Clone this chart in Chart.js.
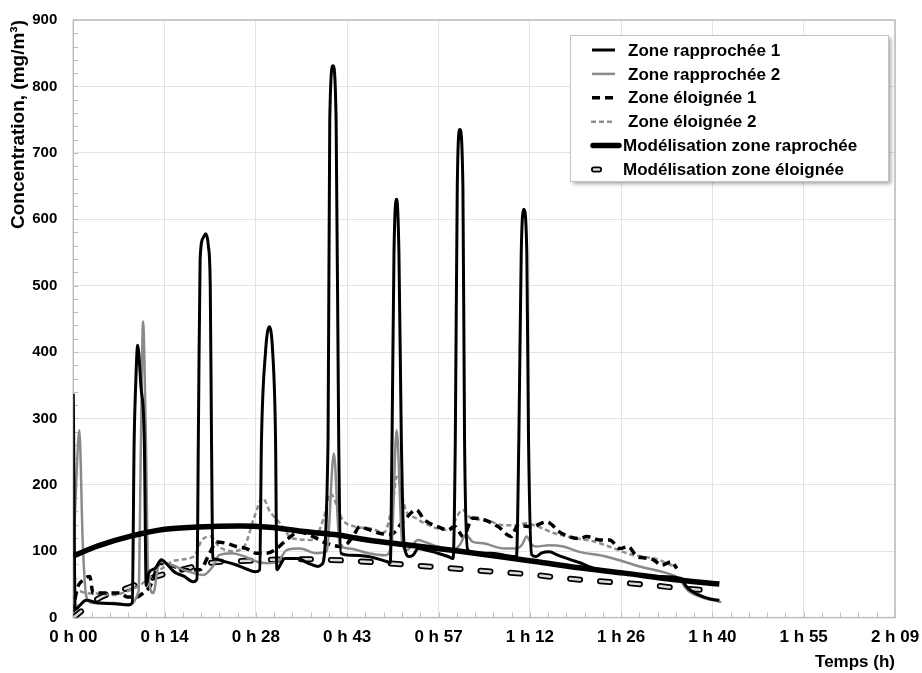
<!DOCTYPE html>
<html><head><meta charset="utf-8">
<script src="https://cdn.jsdelivr.net/npm/chart.js@4.4.1/dist/chart.umd.min.js"></script>
<style>html,body{margin:0;padding:0;background:#fff;}</style>
</head><body>
<canvas id="c" width="922" height="673"></canvas>
<script>
// ---- data (time in minutes, concentration in mg/m3) ----
const seriesLabels = ['Zone rapprochée 1','Zone rapprochée 2','Zone éloignée 1','Zone éloignée 2','Modélisation zone raprochée','Modélisation zone éloignée'];

const r1Time = [0,0.3,1.0,2.0,4.0,6.5,8.7,9.3, 9.6,9.83,10.15,10.67,11.2,11.5, 11.9,12.9,13.9,14.4,15.9,17.5,18.9, 19.5,19.75,20.0,20.5,20.9,21.3,21.6,21.8,22.0, 22.5,24.0,25.5,27.1,28.7, 29.4,29.68,30.3,30.9,31.46,31.9,32.1, 32.8,33.3,35.4,37.0,38.6, 39.2,40.18,40.45,40.96,41.45,41.86,42.2, 43.8,46.5,48.6, 50.0,50.27,50.58,51.0,51.36,51.74,52.2, 53.05,53.6,54.4,55.4,57.5,59.1, 59.9,60.25,60.56,60.97,61.45,61.71,62.2, 63.3,65.9,68.0, 69.9,70.27,70.65,71.06,71.53,71.8,72.3, 73.0,73.8,75.1,76.4,78.5,79.8,82.2,86.9,92.2,95.9,96.6,97.5,99.2,100.5,101.9];
const r1Conc = [337,12,18,26,22,21,19,22, 267,348,410,348,267,48, 67,74,87,84,69,62,54, 58,300,539,572,578,560,500,267,90, 88,84,80,74,69, 72,267,398,438,398,267,72, 82,89,89,82,77, 80,267,750,831,750,267,97, 94,92,87, 83,267,549,630,549,267,107, 92,94,104,102,97,92, 89,267,649,735,649,267,102, 97,97,94, 92,267,549,615,549,267,95, 92,97,99,94,87,83,74,67,62,59,48,40,32,28,26];

const r2Time = [0,0.45,0.95,1.5,2.1,3.0,4.5,6.5,8.5,10.3,10.67,11.0,11.45,11.8,12.6,13.6,15.5,18.3,20.5,22.0,23.0,25.0,27.0,29.0,30.6,32.2,33.7,35.7,38.3,40.0,41.1,42.0,43.5,46.5,49.2,50.2,51.0,51.9,52.6,54.4,55.4,57.5,59.9,61.0,61.9,63.0,64.6,68.0,69.9,70.8,71.5,72.3,73.0,75.1,77.3,79.8,84.0,89.3,94.5,95.6,96.4,97.2,99.0,100.0,101.5,102.2];
const r2Conc = [90,200,282,110,30,22,22,22,20,40,267,446,267,70,37,84,79,69,64,77,94,97,92,84,82,84,102,104,97,100,247,110,104,97,94,110,282,110,102,117,114,107,102,110,125,114,112,104,104,110,122,110,107,109,107,99,92,77,64,58,47,39,31,28,25,23];

const e1Time = [0,0.5,1.6,2.6,3.1,4.7,7.4,8.5,10.0,11.0,12.1,13.7,15.2,17.8,19.96,21.5,22.6,24.1,25.7,27.3,28.9,30.5,32.1,33.6,35.7,37.8,39.9,42.5,44.1,45.2,46.2,48.3,50.0,52.2,54.1,55.4,57.5,59.1,60.2,61.5,63.0,64.9,67.0,69.1,70.1,72.2,74.6,77.0,79.8,81.0,83.0,84.6,86.2,87.5,88.9,89.9,91.5,92.8,94.3,95.2];
const e1Conc = [8,40,57,62,37,37,37,31,31,37,47,82,79,72,72,97,114,112,107,104,97,97,104,117,129,122,112,107,122,137,134,127,125,147,162,147,137,132,137,122,150,147,137,122,139,137,144,127,119,122,117,117,104,107,92,90,87,79,84,74];

const e2Time = [0,0.8,2.0,4.0,6.5,8.0,10.2,12.3,14.0,16.0,19.0,20.3,21.7,23.0,25.0,27.0,28.5,29.9,31.0,32.6,34.6,37.8,39.5,40.5,42.5,44.5,47.0,49.0,50.5,51.0,52.5,54.0,55.0,57.5,59.1,61.4,62.7,65.0,68.0,69.8,71.4,73.3,75.9,79.5,82.0,84.5,88.0,92.4,94.0,95.2];
const e2Conc = [20,40,37,36,34,38,47,62,74,86,92,117,122,107,100,108,150,180,160,142,119,117,150,187,147,137,134,128,180,212,160,150,144,134,132,162,150,147,139,139,142,137,127,119,115,107,95,87,80,77];

const modRTime = [0,3.9,9.2,14.45,19.7,26.3,30.9,36.0,41.2,46.4,52.2,60.1,68.0,73.2,79.8,86.9,94.0,101.9];
const modRConc = [93,108,123,133,136.5,138,136,130,125,117,110,101,91,84,75,67,58,50.5];

const modETime = [0,4.0,8.4,13.1,17.9,22.0,26.3,30.9,35.7,40.4,44.6,49.3,54.6,58.8,63.6,68.3,73.0,77.7,82.5,87.2,91.9,96.1,101.9];
const modEConc = [0,29,44,62,74,83,85,87,88,87,85,82,78,75,71,68,64,59,55,52,48,44,40];

const xMaxMinutes = 129.6;   // 0.09 day
const xStepMinutes = 14.4;   // 0.01 day
const yMax = 900, yStep = 100;

function pts(ts, vs){ return ts.map((t,i)=>({x:t, y:vs[i]})); }
function fmtTime(v){
  const h = Math.floor(v/60 + 1e-9);
  const m = Math.floor(v - h*60 + 1e-6);
  return h + ' h ' + String(m).padStart(2,'0');
}

const FONT = "'Liberation Sans', Arial, sans-serif";
Chart.defaults.font.family = FONT;
Chart.defaults.color = '#000';

const common = {pointRadius:0, pointHoverRadius:0, fill:false, cubicInterpolationMode:'monotone'};

const datasets = [
  {...common, label:seriesLabels[0], data:pts(r1Time,r1Conc), borderColor:'#000', borderWidth:3, order:0},
  {...common, label:seriesLabels[1], data:pts(r2Time,r2Conc), borderColor:'#8a8a8a', borderWidth:2.5, order:2},
  {...common, label:seriesLabels[2], data:pts(e1Time,e1Conc), borderColor:'#000', borderWidth:3.5, borderDash:[8,5], order:3},
  {...common, label:seriesLabels[3], data:pts(e2Time,e2Conc), borderColor:'#8f8f8f', borderWidth:2.5, borderDash:[5,3], order:4},
  {...common, label:seriesLabels[4], data:pts(modRTime,modRConc), borderColor:'#000', borderWidth:5.5, order:1},
  {...common, label:seriesLabels[5], data:pts(modETime,modEConc), borderColor:'#000', borderWidth:6, borderDash:[10,20], borderCapStyle:'round', order:6},
  {...common, label:'_inner', data:pts(modETime,modEConc), borderColor:'#dcdcdc', borderWidth:2.5, borderDash:[10,20], borderCapStyle:'round', order:5}
];

const frameMinor = {
  id:'frameMinor',
  beforeDatasetsDraw(chart){
    const {ctx, chartArea:a, scales:{x,y}} = chart;
    ctx.save();
    ctx.strokeStyle = '#bdbdbd'; ctx.lineWidth = 1;
    ctx.beginPath();
    for (let v=0; v<=xMaxMinutes+1e-6; v+=xStepMinutes/5){
      const px = Math.round(x.getPixelForValue(v))+0.5;
      ctx.moveTo(px, a.bottom); ctx.lineTo(px, a.bottom-5);
    }
    for (let v=0; v<=yMax+1e-6; v+=yStep/5){
      const py = Math.round(y.getPixelForValue(v))+0.5;
      ctx.moveTo(a.left, py); ctx.lineTo(a.left+5, py);
    }
    ctx.stroke();
    ctx.lineWidth = 1.5;
    ctx.strokeRect(a.left, a.top, a.right-a.left, a.bottom-a.top);
    ctx.restore();
  }
};

const boxLegend = {
  id:'boxLegend',
  afterDraw(chart){
    const {ctx, chartArea:a} = chart;
    const L = a.right - 325, T = a.top + 15, W = 318, H = 146;
    ctx.save();
    ctx.shadowColor = 'rgba(0,0,0,0.35)'; ctx.shadowOffsetX = 3; ctx.shadowOffsetY = 3; ctx.shadowBlur = 4;
    ctx.fillStyle = '#fff'; ctx.fillRect(L, T, W, H);
    ctx.shadowColor = 'transparent';
    ctx.strokeStyle = '#c4c4c4'; ctx.lineWidth = 1; ctx.strokeRect(L+0.5, T+0.5, W, H);
    const sym = [[22,45,58],[22,45,58],[22,44,58],[21,45,58],[23,49,53],[24,29,53]];
    const ds = chart.data.datasets;
    for (let i=0;i<6;i++){
      const cy = T + 15 + i*23.9;
      const d = ds[i];
      const draw = (dd)=>{
        ctx.beginPath();
        ctx.strokeStyle = dd.borderColor; ctx.lineWidth = dd.borderWidth;
        ctx.setLineDash(i<4 ? (dd.borderDash||[]) : []);
        ctx.lineCap = (i>=4) ? 'round' : 'butt';
        ctx.moveTo(L+sym[i][0], cy); ctx.lineTo(L+sym[i][1], cy); ctx.stroke();
      };
      draw(d);
      if (i===5) draw(ds[6]);
      ctx.setLineDash([]);
      ctx.fillStyle = '#000'; ctx.font = 'bold 17px ' + FONT; ctx.textBaseline = 'middle'; ctx.textAlign='left';
      ctx.fillText(d.label, L+sym[i][2], cy+1);
    }
    ctx.restore();
  }
};

new Chart(document.getElementById('c'), {
  type:'line',
  data:{datasets},
  options:{
    responsive:false, animation:false,
    layout:{padding:{left:0, top:20, right:27, bottom:0}},
    plugins:{legend:{display:false}, tooltip:{enabled:false}},
    scales:{
      x:{type:'linear', min:0, max:xMaxMinutes,
        ticks:{stepSize:xStepMinutes, callback:(v)=>fmtTime(v), font:{size:17, weight:'bold'}, padding:10, maxRotation:0, autoSkip:false, color:'#000'},
        grid:{color:'#e3e3e3', lineWidth:1, drawTicks:false},
        border:{display:false},
        title:{display:true, text:'Temps (h)', align:'end', font:{size:17, weight:'bold'}, padding:{top:0,bottom:0}, color:'#000'},
        afterFit:(s)=>{ s.height = 55.4; s.paddingLeft = 0; s.paddingRight = 0; }
      },
      y:{min:0, max:yMax,
        ticks:{stepSize:yStep, font:{size:15, weight:'bold'}, padding:16, color:'#000'},
        grid:{color:'#e3e3e3', lineWidth:1, drawTicks:false},
        border:{display:false},
        title:{display:true, text:'Concentration, (mg/m³)', align:'end', font:{size:19, weight:'bold'}, padding:{top:7,bottom:0}, color:'#000'},
        afterFit:(s)=>{ s.width = 73.3; s.paddingTop = 0; s.paddingBottom = 0; }
      }
    }
  },
  plugins:[frameMinor, boxLegend]
});
</script>
</body></html>
